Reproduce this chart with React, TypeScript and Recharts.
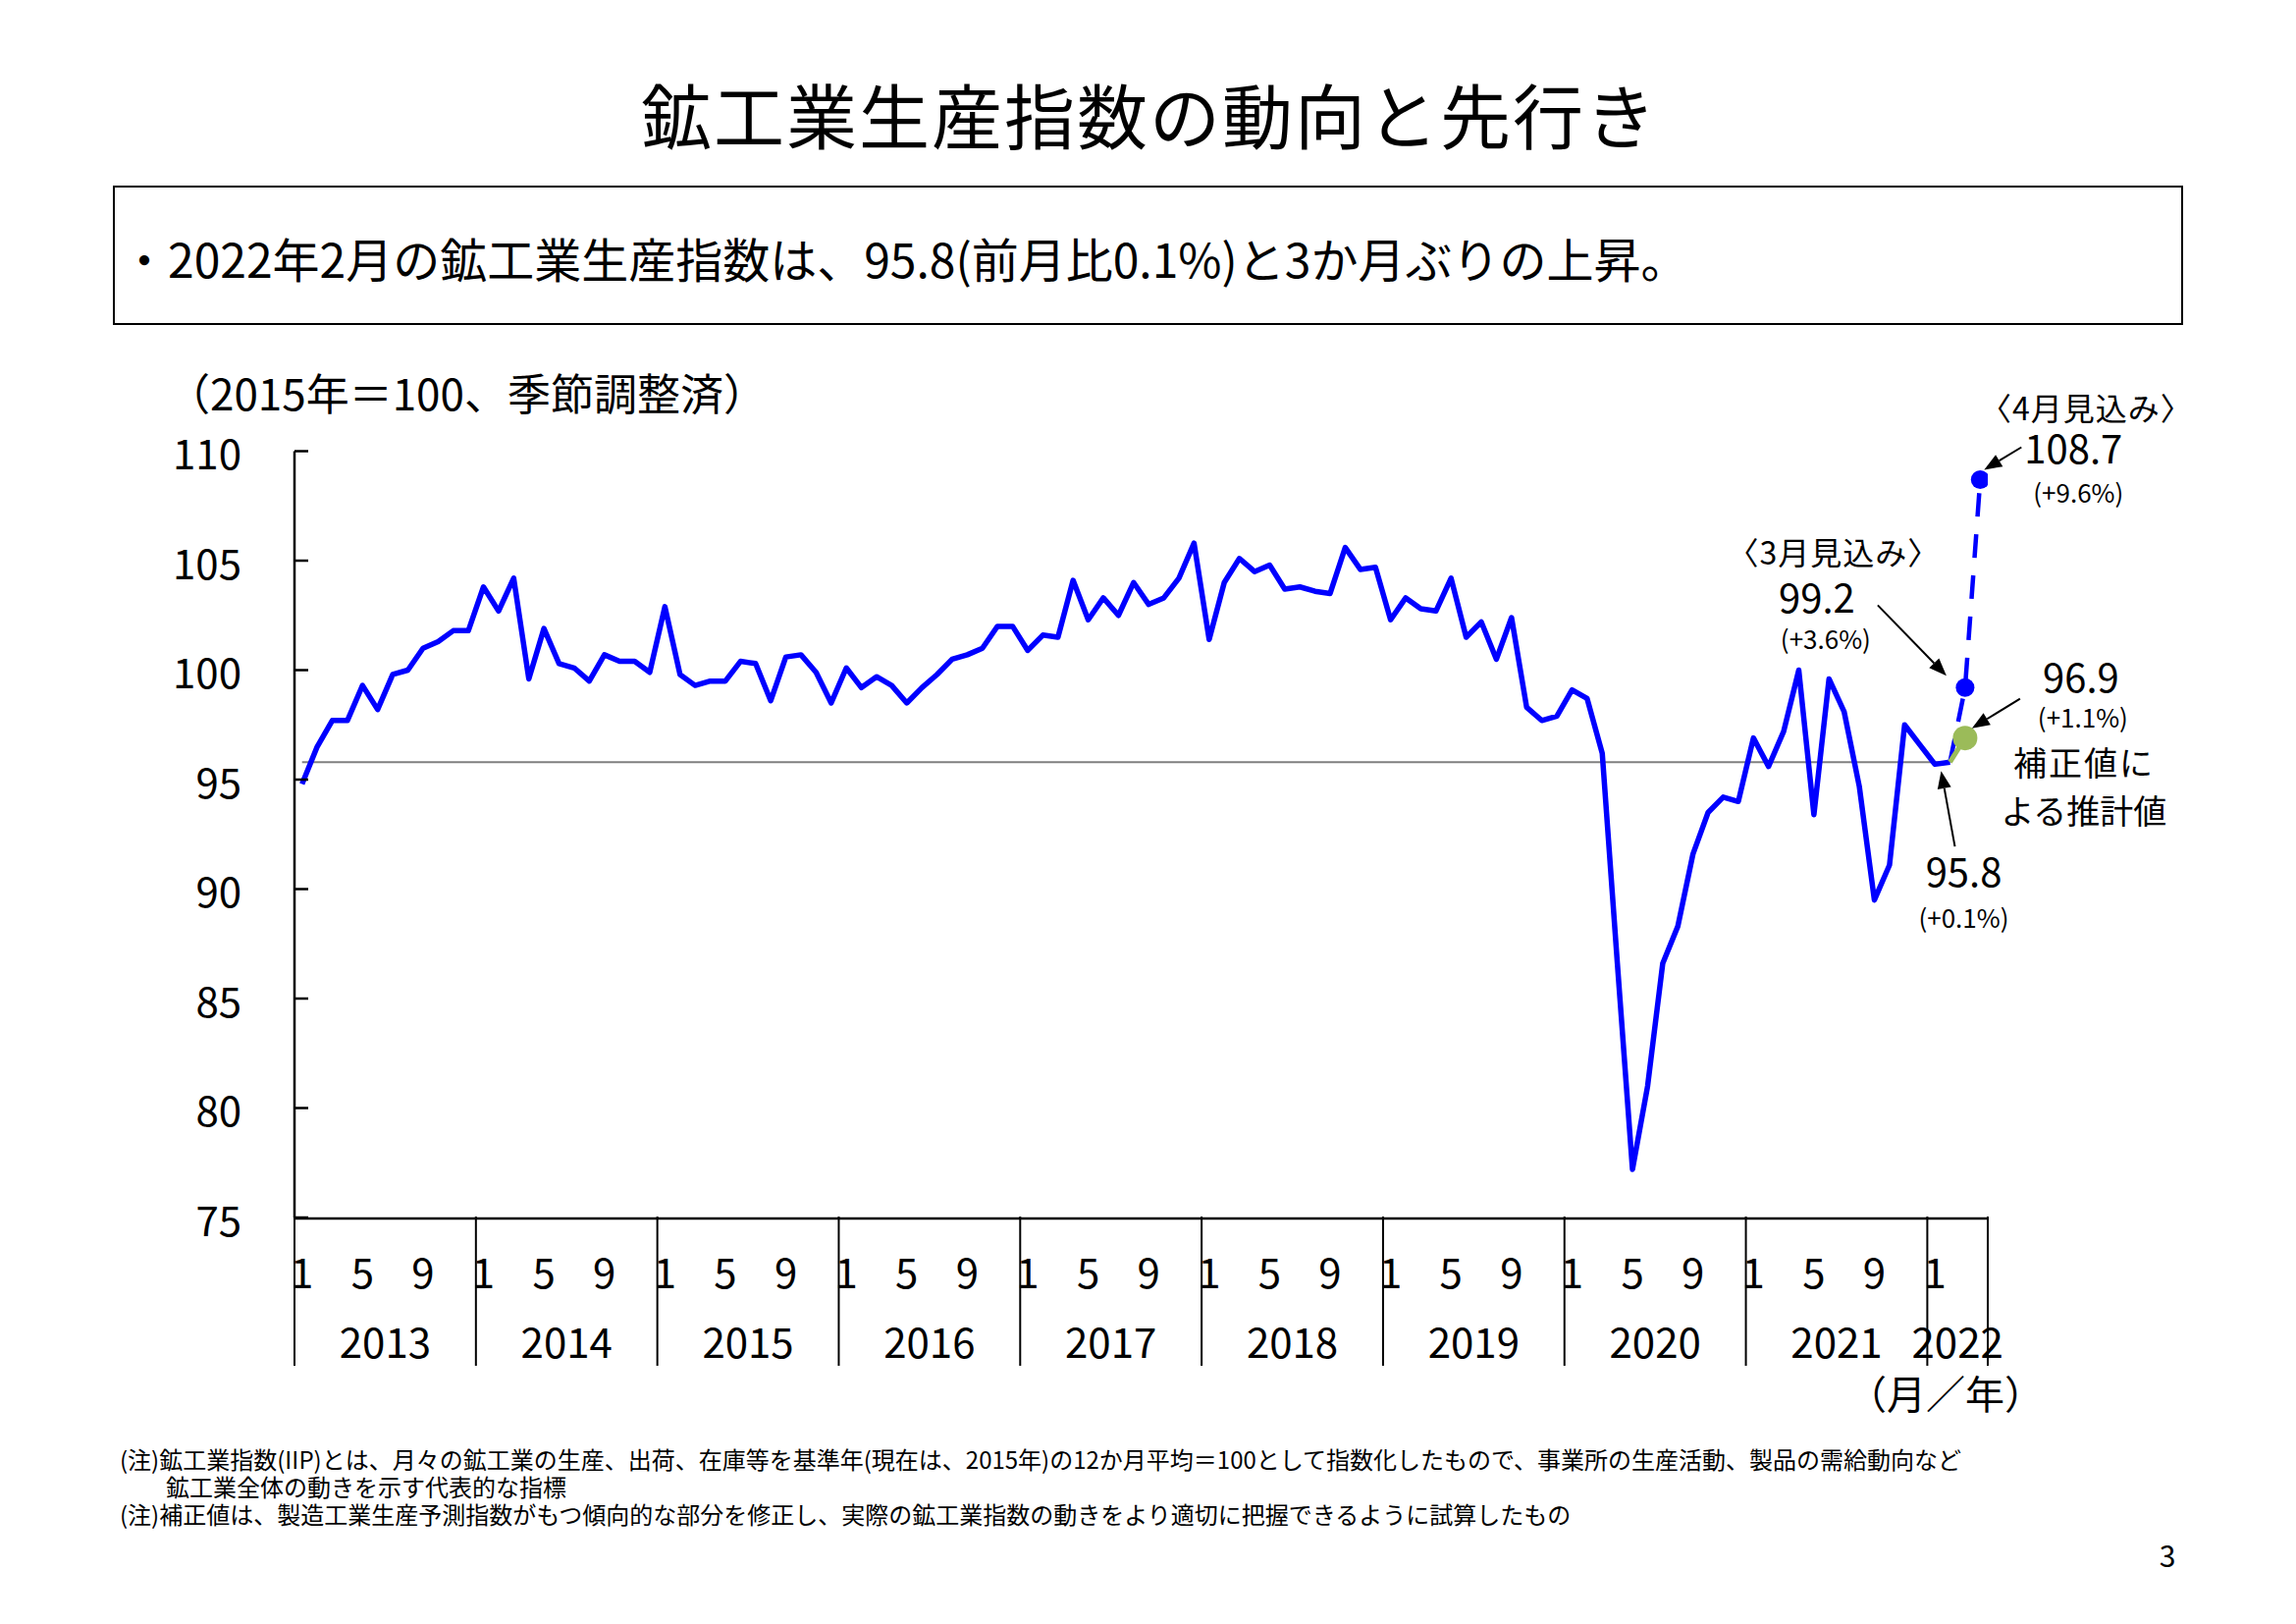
import React from 'react';
import { LineChart, Line, XAxis, YAxis, ReferenceLine, ReferenceDot } from 'recharts';

const FONT = '"Noto Sans CJK JP", "Noto Sans", sans-serif';

// ---------- texts ----------
const titleText = '鉱工業生産指数の動向と先行き';
const summaryText = '・2022年2月の鉱工業生産指数は、95.8(前月比0.1%)と3か月ぶりの上昇。';
const yAxisTitle = '（2015年＝100、季節調整済）';
const xAxisUnit = '（月／年）';
const noteLines = [
  '(注)鉱工業指数(IIP)とは、月々の鉱工業の生産、出荷、在庫等を基準年(現在は、2015年)の12か月平均＝100として指数化したもので、事業所の生産活動、製品の需給動向など',
  '鉱工業全体の動きを示す代表的な指標',
  '(注)補正値は、製造工業生産予測指数がもつ傾向的な部分を修正し、実際の鉱工業指数の動きをより適切に把握できるように試算したもの',
];
const pageNumber = '3';

// ---------- categories ----------
const years = [2013, 2014, 2015, 2016, 2017, 2018, 2019, 2020, 2021, 2022];
const monthsShown = [12, 12, 12, 12, 12, 12, 12, 12, 12, 4];
const monthTickLabels = [1, 5, 9];
const yTicks = [75, 80, 85, 90, 95, 100, 105, 110];

// ---------- series ----------
const actualValues = [
  // 2013
  94.8, 96.5, 97.7, 97.7, 99.3, 98.2, 99.8, 100.0, 101.0, 101.3, 101.8, 101.8,
  // 2014
  103.8, 102.7, 104.2, 99.6, 101.9, 100.3, 100.1, 99.5, 100.7, 100.4, 100.4, 99.9,
  // 2015
  102.9, 99.8, 99.3, 99.5, 99.5, 100.4, 100.3, 98.6, 100.6, 100.7, 99.9, 98.5,
  // 2016
  100.1, 99.2, 99.7, 99.3, 98.5, 99.2, 99.8, 100.5, 100.7, 101.0, 102.0, 102.0,
  // 2017
  100.9, 101.6, 101.5, 104.1, 102.3, 103.3, 102.5, 104.0, 103.0, 103.3, 104.2, 105.8,
  // 2018
  101.4, 104.0, 105.1, 104.5, 104.8, 103.7, 103.8, 103.6, 103.5, 105.6, 104.6, 104.7,
  // 2019
  102.3, 103.3, 102.8, 102.7, 104.2, 101.5, 102.2, 100.5, 102.4, 98.3, 97.7, 97.9,
  // 2020
  99.1, 98.7, 96.2, 86.6, 77.2, 81.0, 86.6, 88.3, 91.6, 93.5, 94.2, 94.0,
  // 2021
  96.9, 95.6, 97.2, 100.0, 93.4, 99.6, 98.1, 94.7, 89.5, 91.1, 97.5, 96.6,
  // 2022
  95.7, 95.8,
];
// starts at the last actual month (Feb 2022): Feb, Mar forecast, Apr forecast
const forecastValues = [95.8, 99.2, 108.7];
// corrected estimate: Feb actual, Mar corrected
const correctedValues = [95.8, 96.9];

const marLabel = ['〈3月見込み〉', '99.2', '(+3.6%)'];
const aprLabel = ['〈4月見込み〉', '108.7', '(+9.6%)'];
const corrLabel = ['96.9', '(+1.1%)', '補正値に', 'よる推計値'];
const febLabel = ['95.8', '(+0.1%)'];

// ---------- derived table ----------
const months: { year: number; month: number }[] = [];
years.forEach((yr, k) => {
  for (let m = 1; m <= monthsShown[k]; m++) months.push({ year: yr, month: m });
});
const lastActual = actualValues.length - 1;
const rows = months.map((mm, i) => ({
  idx: i,
  year: mm.year,
  month: mm.month,
  actual: i <= lastActual ? actualValues[i] : null,
  forecast: i >= lastActual && i - lastActual < forecastValues.length ? forecastValues[i - lastActual] : null,
  corrected: i >= lastActual && i - lastActual < correctedValues.length ? correctedValues[i - lastActual] : null,
}));
const monthTickIdx = rows.filter((r) => monthTickLabels.includes(r.month)).map((r) => r.idx);
const yearStart = years.map((y) => rows.findIndex((r) => r.year === y));
const yearEnd = years.map((y) => {
  let last = -1;
  rows.forEach((r) => {
    if (r.year === y) last = r.idx;
  });
  return last;
});
const dividerTicks = [...yearStart.map((s) => s - 0.5), rows.length - 0.5];
const yearCenterTicks = years.map((_, k) => (yearStart[k] + yearEnd[k]) / 2);
const xDomain = [-0.5, rows.length - 0.5];

const PLOT_BOTTOM_GAP = 411;

// ---------- helpers ----------
const SvgText = ({ x, y, size, children, ls = 0, anchor = 'middle' }: any) => (
  <text
    x={x}
    y={y}
    textAnchor={anchor}
    dominantBaseline="central"
    fontSize={size}
    fontFamily={FONT}
    letterSpacing={ls}
    fill="#000"
  >
    {children}
  </text>
);

const Arrow = ({ x1, y1, x2, y2 }: any) => {
  const ang = Math.atan2(y2 - y1, x2 - x1);
  const L = 18;
  const W = 7;
  const bx = x2 - L * Math.cos(ang);
  const by = y2 - L * Math.sin(ang);
  const px = -Math.sin(ang) * W;
  const py = Math.cos(ang) * W;
  return (
    <g>
      <line x1={x1} y1={y1} x2={bx} y2={by} stroke="#000" strokeWidth={2} />
      <polygon points={`${x2},${y2} ${bx + px},${by + py} ${bx - px},${by - py}`} fill="#000" />
    </g>
  );
};

const YTick = (p: any) => (
  <g>
    <line x1={p.x} x2={p.x + 14} y1={p.y} y2={p.y} stroke="#000" strokeWidth={2.5} />
    <SvgText x={p.x - 54} y={p.y} size={42} anchor="end">
      {p.payload.value}
    </SvgText>
  </g>
);

const MonthTick = (p: any) => {
  const row = rows[Math.round(p.payload.value)];
  return (
    <SvgText x={p.x} y={p.y + 52} size={42}>
      {row ? row.month : ''}
    </SvgText>
  );
};

const DividerTick = (p: any) => (
  <line x1={p.x} x2={p.x} y1={p.y - 1} y2={p.y + 151} stroke="#000" strokeWidth={2} />
);

const YearTick = (p: any) => {
  const k = yearCenterTicks.findIndex((c) => Math.abs(c - p.payload.value) < 0.01);
  return (
    <SvgText x={p.x} y={p.y + 122} size={42}>
      {k >= 0 ? years[k] : ''}
    </SvgText>
  );
};

const forecastDot = (p: any) =>
  p.index > lastActual && p.cy != null ? (
    <circle key={`fd${p.index}`} cx={p.cx} cy={p.cy} r={9.5} fill="#0000FF" />
  ) : (
    <g key={`fd${p.index}`} />
  );

const correctedDot = (p: any) =>
  p.index > lastActual && p.cy != null ? (
    <circle key={`cd${p.index}`} cx={p.cx} cy={p.cy} r={12.5} fill="#9BBB59" />
  ) : (
    <g key={`cd${p.index}`} />
  );

const AprAnnot = (p: any) => {
  const { cx, cy } = p;
  return (
    <g>
      <SvgText x={cx + 108} y={cy - 74} size={32} ls={1}>{aprLabel[0]}</SvgText>
      <SvgText x={cx + 95} y={cy - 33} size={40}>{aprLabel[1]}</SvgText>
      <SvgText x={cx + 100} y={cy + 12} size={26}>{aprLabel[2]}</SvgText>
      <Arrow x1={cx + 42} y1={cy - 33} x2={cx + 4} y2={cy - 10} />
    </g>
  );
};

const MarAnnot = (p: any) => {
  const { cx, cy } = p;
  return (
    <g>
      <SvgText x={cx - 134} y={cy - 139} size={32} ls={1}>{marLabel[0]}</SvgText>
      <SvgText x={cx - 151} y={cy - 93} size={40}>{marLabel[1]}</SvgText>
      <SvgText x={cx - 142} y={cy - 51} size={26}>{marLabel[2]}</SvgText>
      <Arrow x1={cx - 89} y1={cy - 84} x2={cx - 19} y2={cy - 12} />
    </g>
  );
};

const CorrAnnot = (p: any) => {
  const { cx, cy } = p;
  return (
    <g>
      <SvgText x={cx + 118} y={cy - 64} size={40}>{corrLabel[0]}</SvgText>
      <SvgText x={cx + 120} y={cy - 22} size={26}>{corrLabel[1]}</SvgText>
      <SvgText x={cx + 121} y={cy + 24} size={34} ls={2}>{corrLabel[2]}</SvgText>
      <SvgText x={cx + 121} y={cy + 73} size={34}>{corrLabel[3]}</SvgText>
      <Arrow x1={cx + 56} y1={cy - 40} x2={cx + 7} y2={cy - 10} />
    </g>
  );
};

const FebAnnot = (p: any) => {
  const { cx, cy } = p;
  return (
    <g>
      <SvgText x={cx + 14} y={cy + 110} size={40}>{febLabel[0]}</SvgText>
      <SvgText x={cx + 14} y={cy + 157} size={26}>{febLabel[1]}</SvgText>
      <Arrow x1={cx + 5} y1={cy + 86} x2={cx - 9} y2={cy + 9} />
    </g>
  );
};

const Abs = ({ x, y, size, children, center = true, ls = 0 }: any) => (
  <div
    style={{
      position: 'absolute',
      left: x,
      top: y,
      transform: center ? 'translate(-50%, -55%)' : 'translate(0, -55%)',
      fontSize: size,
      lineHeight: 1,
      whiteSpace: 'nowrap',
      fontFamily: FONT,
      letterSpacing: ls,
      color: '#000',
    }}
  >
    {children}
  </div>
);

const xCommon = {
  dataKey: 'idx',
  type: 'number' as const,
  domain: xDomain,
  allowDataOverflow: true,
  interval: 0 as const,
  height: 1,
  tickSize: 0,
  tickMargin: 0,
  tickLine: false,
};

export default function App() {
  return (
    <div
      style={{
        position: 'absolute',
        left: 0,
        top: 0,
        width: 2339,
        height: 1654,
        background: '#fff',
        overflow: 'hidden',
      }}
    >
      <Abs x={1171} y={119} size={72} ls={2}>{titleText}</Abs>
      <div
        style={{
          position: 'absolute',
          left: 115,
          top: 189,
          width: 2109,
          height: 142,
          border: '2.5px solid #000',
          boxSizing: 'border-box',
        }}
      />
      <Abs x={123} y={264} size={48} center={false}>{summaryText}</Abs>
      <Abs x={170} y={401} size={44} center={false}>{yAxisTitle}</Abs>

      <div style={{ position: 'absolute', left: 0, top: 0 }}>
        <LineChart
          width={2339}
          height={1654}
          data={rows}
          margin={{ top: 459.5, right: 314, bottom: PLOT_BOTTOM_GAP, left: 100 }}
        >
          <XAxis
            xAxisId="m"
            {...xCommon}
            ticks={monthTickIdx}
            axisLine={{ stroke: '#000', strokeWidth: 2.5 }}
            tick={<MonthTick />}
          />
          <XAxis
            xAxisId="d"
            {...xCommon}
            ticks={dividerTicks}
            axisLine={false}
            tick={<DividerTick />}
          />
          <XAxis
            xAxisId="y"
            {...xCommon}
            ticks={yearCenterTicks}
            axisLine={false}
            tick={<YearTick />}
          />
          <YAxis
            type="number"
            domain={[75, 110]}
            ticks={yTicks}
            interval={0}
            width={200}
            tickSize={0}
            tickMargin={0}
            tickLine={false}
            axisLine={{ stroke: '#000', strokeWidth: 2.5 }}
            tick={<YTick />}
          />
          <ReferenceLine
            xAxisId="m"
            segment={[
              { x: 0, y: actualValues[lastActual] },
              { x: lastActual, y: actualValues[lastActual] },
            ]}
            stroke="#808080"
            strokeWidth={2}
          />
          <Line
            xAxisId="m"
            dataKey="actual"
            stroke="#0000FF"
            strokeWidth={5.5}
            dot={false}
            isAnimationActive={false}
            strokeLinejoin="round"
          />
          <Line
            xAxisId="m"
            dataKey="forecast"
            stroke="#0000FF"
            strokeWidth={4.5}
            strokeDasharray="24 18"
            dot={forecastDot}
            isAnimationActive={false}
          />
          <Line
            xAxisId="m"
            dataKey="corrected"
            stroke="#9BBB59"
            strokeWidth={5}
            dot={correctedDot}
            isAnimationActive={false}
          />
          <ReferenceDot xAxisId="m" x={lastActual + 2} y={forecastValues[2]} r={0} ifOverflow="visible" shape={AprAnnot} />
          <ReferenceDot xAxisId="m" x={lastActual + 1} y={forecastValues[1]} r={0} ifOverflow="visible" shape={MarAnnot} />
          <ReferenceDot xAxisId="m" x={lastActual + 1} y={correctedValues[1]} r={0} ifOverflow="visible" shape={CorrAnnot} />
          <ReferenceDot xAxisId="m" x={lastActual} y={actualValues[lastActual]} r={0} ifOverflow="visible" shape={FebAnnot} />
        </LineChart>
      </div>

      <Abs x={1982} y={1420} size={40}>{xAxisUnit}</Abs>
      <Abs x={122} y={1487} size={24} center={false}>{noteLines[0]}</Abs>
      <Abs x={169} y={1515} size={24} center={false}>{noteLines[1]}</Abs>
      <Abs x={122} y={1543} size={24} center={false}>{noteLines[2]}</Abs>
      <Abs x={2208} y={1584} size={30}>{pageNumber}</Abs>
    </div>
  );
}
